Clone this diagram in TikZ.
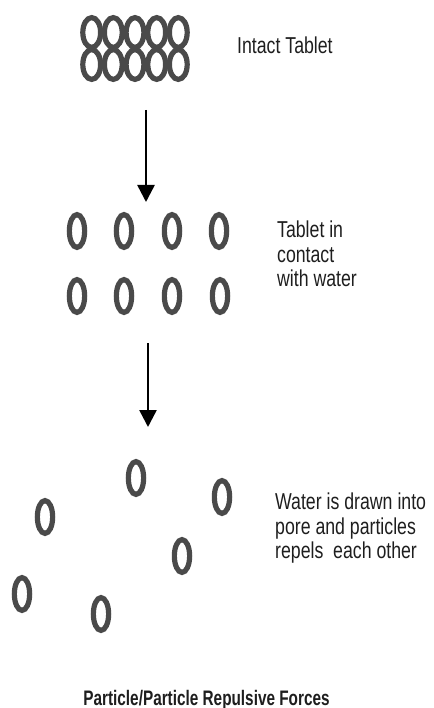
\documentclass[tikz,border=0pt]{standalone}
\usepackage{fontspec}
\setmainfont{Liberation Sans}
\usetikzlibrary{arrows.meta,shapes.geometric}
\definecolor{ovalgray}{HTML}{4A4A4A}
\definecolor{labelgray}{HTML}{1E1E1E}
\tikzset{
  particle/.style={ellipse,draw=ovalgray,line width=5.2pt,inner sep=0pt,
    minimum width=15.3pt,minimum height=32.8pt},
  packed/.style={particle,minimum width=17.8pt,minimum height=29.8pt},
  stagelabel/.style={font=\fontsize{23}{24.5}\selectfont,text=labelgray,
    align=left,anchor=north west,inner sep=0pt,xscale=.77},
  drop/.style={line width=2.5pt,-{Triangle[width=17pt,length=17pt]}}
}
\begin{document}
\begin{tikzpicture}[x=1pt,y=-1pt]
    \useasboundingbox (0,0) rectangle (433,708);
    % intact tablet
    \node[packed] (t1) at (91.7,32.5) {};
    \node[packed] (t2) at (113.3,32.5) {};
    \node[packed] (t3) at (135,32.5) {};
    \node[packed] (t4) at (156.7,32.5) {};
    \node[packed] (t5) at (178.3,32.5) {};
    \node[packed] (t6) at (91.7,64.5) {};
    \node[packed] (t7) at (113.3,64.5) {};
    \node[packed] (t8) at (135,64.5) {};
    \node[packed] (t9) at (156.7,64.5) {};
    \node[packed] (t10) at (178.3,64.5) {};
    \node[stagelabel] (intact) at (237,37) {Intact Tablet};
    \coordinate (a1) at (146,110);
    \coordinate (b1) at (146,202);
    \draw[drop] (a1) -- (b1);
    % in contact with water
    \node[particle] (m1) at (77,231) {};
    \node[particle] (m2) at (124,231) {};
    \node[particle] (m3) at (172,231) {};
    \node[particle] (m4) at (219,231) {};
    \node[particle] (m5) at (77,296) {};
    \node[particle] (m6) at (124,296) {};
    \node[particle] (m7) at (172,296) {};
    \node[particle] (m8) at (220,296) {};
    \node[stagelabel] (contact) at (277,221) {Tablet in\\contact\\with water};
    \coordinate (a2) at (148,343);
    \coordinate (b2) at (148,427);
    \draw[drop] (a2) -- (b2);
    % particles pushed apart
    \node[particle] (p1) at (136,478) {};
    \node[particle] (p2) at (222,497) {};
    \node[particle] (p3) at (45,517) {};
    \node[particle] (p4) at (182,556) {};
    \node[particle] (p5) at (22,594) {};
    \node[particle] (p6) at (101,614) {};
    \node[stagelabel] (drawn) at (275,493) {Water is drawn into\\pore and particles\\repels\ \ each other};
    \node[font=\fontsize{21}{21}\selectfont\bfseries,text=labelgray,inner sep=0pt,
      anchor=base,xscale=.73] (title) at (206.5,705) {Particle/Particle Repulsive Forces};
\end{tikzpicture}
\end{document}
